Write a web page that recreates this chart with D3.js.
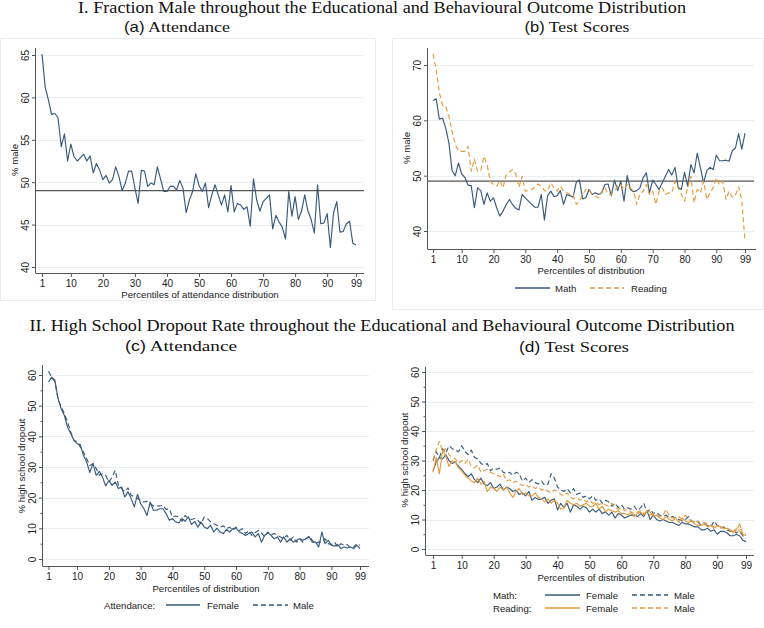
<!DOCTYPE html>
<html><head><meta charset="utf-8">
<script src="https://cdn.jsdelivr.net/npm/d3@7"></script>
<style>body{margin:0;background:#fff}svg{display:block}</style></head>
<body>
<svg id="c" width="764" height="628"></svg>
<script>
// ---------- data ----------
const percentiles = d3.range(1, 100);
const xTickLabels = [1, 10, 20, 30, 40, 50, 60, 70, 80, 90, 99];

// Panel (a): % male by attendance percentile
const maleByAttendance = [
 65.1,61.2,59.7,58.0,58.1,57.6,54.2,55.7,52.5,54.5,
 53.0,52.5,52.9,53.3,52.5,53.1,51.1,52.2,51.4,50.3,
 50.8,49.9,50.3,51.8,50.7,49.0,49.9,51.3,51.3,49.3,
 47.5,51.4,51.3,49.5,49.9,49.7,51.8,50.4,48.9,48.9,
 49.5,49.5,49.1,50.2,49.3,46.4,47.9,48.9,51.0,49.6,
 48.9,49.9,47.0,48.5,49.7,48.5,47.3,48.5,46.5,49.6,
 46.5,47.5,47.3,46.8,47.1,44.8,50.4,47.9,46.6,47.7,
 48.1,48.5,44.5,46.1,45.3,44.7,43.3,48.9,46.0,48.3,
 45.6,46.6,48.5,46.6,45.6,44.0,49.7,45.1,45.2,46.3,
 42.3,46.4,47.7,44.1,44.2,45.1,45.4,42.8,42.6];
const overallMale = 49;

// Panel (b): % male by test score percentile
const maleByMath = [
 63.6,63.9,60.2,60.4,58.6,55.9,50.9,50.0,52.3,50.3,
 49.7,48.3,48.2,44.2,47.8,47.3,44.8,46.9,45.4,46.0,
 44.2,42.7,43.6,44.8,45.7,44.8,44.1,43.8,46.6,46.0,
 45.4,44.8,44.3,44.3,46.6,42.0,46.4,47.2,46.2,46.4,
 47.3,44.8,46.6,46.4,46.1,48.8,49.2,45.8,46.0,47.5,
 46.6,46.9,46.6,46.9,48.4,48.5,46.4,49.2,47.3,49.0,
 45.4,50.0,47.5,47.1,47.3,47.8,49.6,50.5,46.9,49.2,
 48.4,47.5,48.7,49.9,51.1,50.1,51.5,47.9,47.5,50.6,
 48.1,52.0,50.5,54.1,51.4,48.7,50.9,51.5,51.1,53.7,
 52.7,52.7,52.8,52.6,54.5,55.0,57.6,54.8,57.7];
const maleByReading = [
 72.0,69.2,65.0,62.7,62.5,60.7,58.0,55.6,54.5,54.4,
 54.4,55.3,50.8,53.0,50.8,50.9,53.5,52.0,49.0,48.4,
 48.1,49.1,47.8,50.2,50.7,51.1,50.3,47.9,49.9,47.2,
 47.3,47.5,47.9,48.5,48.1,47.3,47.2,48.7,47.8,47.2,
 48.1,47.2,46.9,46.6,46.6,44.8,45.4,46.6,47.5,47.5,
 46.6,46.3,46.0,47.2,47.8,46.7,46.6,47.2,48.1,48.4,
 47.5,48.4,47.8,47.2,44.8,46.7,47.2,48.4,46.6,47.2,
 44.8,47.2,47.8,46.6,46.9,46.9,49.0,47.8,46.6,45.4,
 47.8,49.9,45.1,47.5,46.9,49.0,45.7,46.9,47.8,49.6,
 48.4,49.0,45.7,47.2,46.1,46.5,48.0,45.5,38.2];

// Panel (c): % high school dropout by attendance percentile
const dropoutAttFemale = [
 57.7,59.3,58.3,52.3,49.0,46.8,43.0,40.9,38.7,37.6,
 37.3,33.8,31.6,28.2,31.1,27.3,28.6,26.7,23.8,25.7,
 24.0,25.1,23.0,23.5,20.2,21.9,19.7,17.0,21.1,18.0,
 16.4,14.2,18.6,15.9,15.9,16.4,16.4,14.8,12.6,13.2,
 12.1,11.8,13.2,12.3,13.7,11.2,12.3,10.4,12.1,10.4,
 9.9,11.0,8.8,10.1,8.8,8.3,9.7,8.8,9.9,10.1,
 8.8,8.3,7.7,8.3,8.8,7.2,8.3,5.5,7.7,8.6,
 7.7,6.6,7.2,5.5,7.2,5.5,6.6,5.5,6.1,6.6,
 6.1,6.6,7.2,5.5,5.5,3.9,8.8,5.0,6.1,4.5,
 4.2,4.7,3.4,3.9,3.6,3.9,3.4,4.5,3.4];
const dropoutAttMale = [
 61.2,59.3,57.7,52.3,49.6,47.4,44.7,41.4,38.7,38.2,
 36.5,34.9,32.7,30.5,31.1,29.5,27.3,27.8,27.3,25.1,
 26.7,28.9,24.0,23.0,21.9,23.2,20.8,20.2,19.7,19.1,
 18.6,18.8,18.0,17.3,17.3,17.3,17.5,16.2,16.4,13.7,
 14.0,13.7,12.3,14.2,13.2,12.9,13.2,12.6,11.5,13.7,
 13.2,12.1,11.5,11.0,10.4,10.8,9.9,10.4,9.3,10.4,
 9.3,9.9,8.3,9.3,7.7,8.6,9.3,8.6,7.2,8.8,
 7.9,8.3,7.7,7.2,6.6,7.7,6.1,7.2,5.5,6.6,
 5.5,6.6,7.5,6.1,5.0,5.5,5.5,6.6,5.0,4.7,
 5.5,3.9,5.0,4.5,4.7,3.6,3.9,5.0,4.5];

// Panel (d): % high school dropout by test score percentile
const dropoutMathFemale = [
 26.5,29.5,31.0,30.5,32.0,30.0,29.0,29.5,28.0,27.0,
 25.5,24.5,25.5,23.5,22.5,24.0,22.0,21.5,22.5,20.5,
 21.0,22.0,20.0,21.0,20.5,19.5,20.0,18.5,19.0,18.0,
 19.5,16.5,17.5,16.8,17.0,17.5,15.5,16.5,17.0,13.2,
 15.5,14.0,15.5,12.5,15.0,14.5,13.5,14.5,14.0,12.5,
 13.5,12.5,13.5,12.0,12.5,11.5,12.5,10.5,12.0,11.5,
 10.5,11.0,11.5,11.5,11.0,12.0,11.0,13.0,10.0,11.5,
 10.0,9.5,10.0,9.5,9.0,9.0,8.5,8.0,9.0,8.5,
 8.5,8.0,7.5,7.5,6.5,6.5,7.0,6.0,6.5,5.0,
 6.0,6.0,5.5,4.5,4.5,5.0,4.5,3.0,2.5];
const dropoutMathMale = [
 30.0,33.0,31.0,34.0,32.5,35.0,34.0,33.5,33.0,35.0,
 33.0,32.0,33.5,31.0,30.5,29.0,28.5,29.0,26.5,27.5,
 27.0,27.5,26.0,25.5,26.0,25.0,26.0,25.5,23.0,24.0,
 22.5,23.5,22.5,22.0,23.0,21.5,22.0,25.5,24.0,21.0,
 20.0,19.5,20.5,19.0,20.5,18.5,19.0,17.5,18.0,17.0,
 18.0,16.5,17.0,15.5,16.5,16.0,14.5,15.5,14.0,15.0,
 13.5,14.0,13.5,14.5,13.0,14.0,15.5,12.5,13.5,12.0,
 12.5,11.5,11.0,11.5,10.5,11.0,10.5,10.0,9.5,10.0,
 11.0,9.5,9.0,9.0,8.0,8.5,8.0,7.5,9.5,8.0,
 7.0,7.5,6.5,6.0,6.5,5.5,6.0,4.5,3.5];
const dropoutReadFemale = [
 26.0,31.0,25.5,33.5,31.5,28.0,30.0,29.5,27.5,26.5,
 25.0,24.0,23.0,22.5,24.0,22.0,23.0,19.5,21.0,20.5,
 19.5,21.0,20.0,21.0,19.0,17.5,19.5,20.5,18.5,19.0,
 18.0,18.0,19.0,17.5,17.0,16.0,17.0,15.5,16.5,15.5,
 13.5,14.0,16.5,15.5,15.0,15.5,14.5,15.0,15.5,14.5,
 14.5,15.5,13.5,14.5,12.5,13.5,13.0,12.5,13.0,12.0,
 12.0,11.5,12.5,11.0,12.0,12.5,11.5,13.0,12.5,11.0,
 11.5,10.5,10.0,11.0,10.0,9.5,10.5,9.0,10.5,9.5,
 9.0,9.5,8.5,8.0,8.0,8.5,7.5,8.0,7.0,8.0,
 7.5,7.0,7.0,6.5,5.5,6.5,8.5,5.0,4.5];
const dropoutReadMale = [
 30.0,33.5,36.5,33.0,34.0,32.0,31.0,30.5,29.0,30.0,
 29.0,30.5,28.0,27.5,28.5,26.0,26.5,27.0,26.0,25.5,
 25.0,24.5,25.5,23.0,23.5,22.5,23.0,22.0,21.5,22.0,
 21.0,21.5,20.5,21.0,20.0,20.5,19.5,19.0,20.0,19.5,
 18.5,18.0,19.0,17.5,17.0,17.5,16.5,17.0,16.0,16.5,
 15.5,16.0,15.0,15.5,15.0,14.5,15.5,14.0,13.5,14.0,
 13.0,13.5,12.5,12.0,12.5,13.0,12.0,12.5,11.5,12.0,
 12.0,11.0,11.5,13.5,11.0,10.5,10.5,11.0,10.0,11.5,
 10.0,9.5,9.0,9.5,8.5,9.0,8.5,8.0,7.5,8.0,
 7.5,7.0,7.0,6.5,6.0,7.0,6.0,5.5,5.0];

// ---------- drawing ----------
const NAVY = '#37597b', ORANGE = '#e49b3c';
const AXIS = '#555', GRID = '#e7eff2', TEXT = '#222';
const SANS = 'Liberation Sans, Arial, sans-serif';
const SERIF = 'Liberation Serif, Times New Roman, serif';
const FS = 9.6;
const svg = d3.select('#c');

// faint panel frames (top row)
svg.append('rect').attr('x',0.5).attr('y',38.5).attr('width',375).attr('height',262)
  .attr('fill','none').attr('stroke','#ececec');
svg.append('rect').attr('x',392.5).attr('y',38.5).attr('width',371).attr('height',271)
  .attr('fill','none').attr('stroke','#ececec');

function panel(cfg) {
  const g = svg.append('g');
  const x = d3.scaleLinear().domain([1, 99]).range(cfg.xr);
  const y = d3.scaleLinear().domain(cfg.yd).range(cfg.yr);
  // grid
  g.selectAll('line.grid').data(cfg.yTicks).join('line')
    .attr('x1', cfg.box[0]).attr('x2', cfg.gridEnd)
    .attr('y1', d => Math.round(y(d)) + 0.5).attr('y2', d => Math.round(y(d)) + 0.5)
    .attr('stroke', GRID).attr('stroke-width', 1);
  // reference line
  if (cfg.ref != null) {
    g.append('line').attr('x1', cfg.box[0]).attr('x2', cfg.gridEnd)
      .attr('y1', y(cfg.ref)).attr('y2', y(cfg.ref))
      .attr('stroke', '#555').attr('stroke-width', 1.3);
  }
  // series
  const line = d3.line().x((d, i) => x(percentiles[i])).y(d => y(d));
  cfg.series.forEach(s => {
    g.append('path').datum(s.values).attr('d', line)
      .attr('fill', 'none').attr('stroke', s.color).attr('stroke-width', 1.15)
      .attr('stroke-dasharray', s.dash || null).attr('stroke-linejoin', 'round');
  });
  // x axis
  const xa = g.append('g').attr('transform', `translate(0,${cfg.box[3]})`);
  xa.call(d3.axisBottom(x).tickValues(percentiles).tickSize(2.5).tickFormat('').tickSizeOuter(0));
  xa.call(d3.axisBottom(x).tickValues(xTickLabels).tickSize(4).tickSizeOuter(0).tickPadding(3));
  xa.selectAll('.domain').remove();
  xa.selectAll('line').attr('stroke', AXIS);
  xa.selectAll('text').attr('font-family', SANS).attr('font-size', FS + 0.4).attr('fill', TEXT);
  g.append('line').attr('x1', cfg.box[0]).attr('x2', cfg.box[2])
    .attr('y1', cfg.box[3] + 0.5).attr('y2', cfg.box[3] + 0.5).attr('stroke', AXIS);
  // y axis
  const ya = g.append('g').attr('transform', `translate(${cfg.box[0]},0)`);
  if (cfg.yMinor) {
    ya.call(d3.axisLeft(y).tickValues(cfg.yMinor).tickSize(2.5).tickFormat('').tickSizeOuter(0));
  }
  const yMaj = g.append('g').attr('transform', `translate(${cfg.box[0]},0)`);
  yMaj.call(d3.axisLeft(y).tickValues(cfg.yTicks).tickSize(4).tickSizeOuter(0));
  ya.selectAll('.domain').remove(); yMaj.selectAll('.domain').remove();
  ya.selectAll('line').attr('stroke', AXIS); yMaj.selectAll('line').attr('stroke', AXIS);
  yMaj.selectAll('text').attr('transform', 'rotate(-90)').attr('x', 0).attr('y', -7)
    .attr('dy', 0).attr('text-anchor', 'middle')
    .attr('font-family', SANS).attr('font-size', FS + 0.4).attr('fill', TEXT);
  g.append('line').attr('x1', cfg.box[0] - 0.5).attr('x2', cfg.box[0] - 0.5)
    .attr('y1', cfg.box[1]).attr('y2', cfg.box[3] + 0.5).attr('stroke', AXIS);
  // titles
  g.append('text').attr('x', cfg.xTitle[0]).attr('y', cfg.xTitle[1]).attr('text-anchor', 'middle')
    .attr('font-family', SANS).attr('font-size', FS).attr('fill', TEXT).text(cfg.xLabel);
  g.append('text').attr('transform', `translate(${cfg.yTitle[0]},${cfg.yTitle[1]}) rotate(-90)`)
    .attr('text-anchor', 'middle').attr('font-family', SANS).attr('font-size', FS)
    .attr('fill', TEXT).text(cfg.yLabel);
  // subtitle
  const st = g.append('text').attr('x', cfg.sub[0]).attr('y', cfg.sub[1]).attr('text-anchor', 'middle')
    .attr('font-size', 15.5).attr('fill', '#111')
    .attr('textLength', cfg.subW).attr('lengthAdjust', 'spacingAndGlyphs');
  st.append('tspan').attr('font-family', SANS).attr('font-size', 14.5).text(cfg.subLetter);
  st.append('tspan').attr('font-family', SERIF).text(cfg.subText);
}

panel({
  box: [36, 48, 364, 273], xr: [42, 356], yd: [40, 65], yr: [267, 55],
  yTicks: [40, 45, 50, 55, 60, 65], gridEnd: 364, ref: overallMale,
  series: [{ values: maleByAttendance, color: NAVY }],
  xLabel: 'Percentiles of attendance distribution', xTitle: [200, 297.5],
  yLabel: '% male', yTitle: [18, 160],
  sub: [177, 32], subW: 106, subLetter: '(a)', subText: ' Attendance'
});
panel({
  box: [428, 48, 756, 249], xr: [433, 745], yd: [40, 70], yr: [231, 65],
  yTicks: [40, 50, 60, 70], gridEnd: 754, ref: overallMale,
  series: [{ values: maleByMath, color: NAVY }, { values: maleByReading, color: ORANGE, dash: '5,3' }],
  xLabel: 'Percentiles of distribution', xTitle: [591, 273.5],
  yLabel: '% male', yTitle: [410, 148],
  sub: [577, 32], subW: 105, subLetter: '(b)', subText: ' Test Scores'
});
panel({
  box: [43, 365, 369, 566], xr: [48.5, 360], yd: [0, 60], yr: [559, 375],
  yTicks: [0, 10, 20, 30, 40, 50, 60], yMinor: [5, 15, 25, 35, 45, 55], gridEnd: 369,
  series: [{ values: dropoutAttFemale, color: NAVY }, { values: dropoutAttMale, color: NAVY, dash: '5,3' }],
  xLabel: 'Percentiles of distribution', xTitle: [206, 591.5],
  yLabel: '% high school dropout', yTitle: [25, 466],
  sub: [181, 351], subW: 112, subLetter: '(c)', subText: ' Attendance'
});
panel({
  box: [426, 367, 754, 555], xr: [433, 746], yd: [0, 60], yr: [549, 372],
  yTicks: [0, 10, 20, 30, 40, 50, 60], yMinor: [5, 15, 25, 35, 45, 55], gridEnd: 754,
  series: [
    { values: dropoutMathFemale, color: NAVY },
    { values: dropoutMathMale, color: NAVY, dash: '5,3' },
    { values: dropoutReadFemale, color: ORANGE },
    { values: dropoutReadMale, color: ORANGE, dash: '5,3' }],
  xLabel: 'Percentiles of distribution', xTitle: [591, 580.5],
  yLabel: '% high school dropout', yTitle: [408, 460],
  sub: [574, 352], subW: 110, subLetter: '(d)', subText: '  Test Scores'
});

// main titles
svg.append('text').attr('x', 382).attr('y', 13).attr('text-anchor', 'middle')
  .attr('font-family', SERIF).attr('font-size', 16).attr('fill', '#111')
  .attr('textLength', 608).attr('lengthAdjust', 'spacingAndGlyphs')
  .text('I. Fraction Male throughout the Educational and Behavioural Outcome Distribution');
svg.append('text').attr('x', 382).attr('y', 331).attr('text-anchor', 'middle')
  .attr('font-family', SERIF).attr('font-size', 16).attr('fill', '#111')
  .attr('textLength', 705).attr('lengthAdjust', 'spacingAndGlyphs')
  .text('II. High School Dropout Rate throughout the Educational and Behavioural Outcome Distribution');

// legends
function legLine(x1, x2, yy, color, dash) {
  svg.append('line').attr('x1', x1).attr('x2', x2).attr('y1', yy).attr('y2', yy)
    .attr('stroke', color).attr('stroke-width', 1.3).attr('stroke-dasharray', dash || null);
}
function legText(xx, yy, t) {
  svg.append('text').attr('x', xx).attr('y', yy + 3.5).attr('font-family', SANS)
    .attr('font-size', FS).attr('fill', TEXT).text(t);
}
// (b)
legLine(515, 550, 288, NAVY); legText(555, 288, 'Math');
legLine(590, 624, 288, ORANGE, '5,3'); legText(631, 288, 'Reading');
// (c)
legText(104, 605, 'Attendance:');
legLine(166, 200, 605, NAVY); legText(207, 605, 'Female');
legLine(253, 288, 605, NAVY, '5,3'); legText(293, 605, 'Male');
// (d)
legText(493, 595, 'Math:');
legLine(545, 580, 595, NAVY); legText(586, 595, 'Female');
legLine(632, 668, 595, NAVY, '5,3'); legText(674, 595, 'Male');
legText(493, 608, 'Reading:');
legLine(545, 580, 608, ORANGE); legText(586, 608, 'Female');
legLine(632, 668, 608, ORANGE, '5,3'); legText(674, 608, 'Male');
</script>
</body></html>
